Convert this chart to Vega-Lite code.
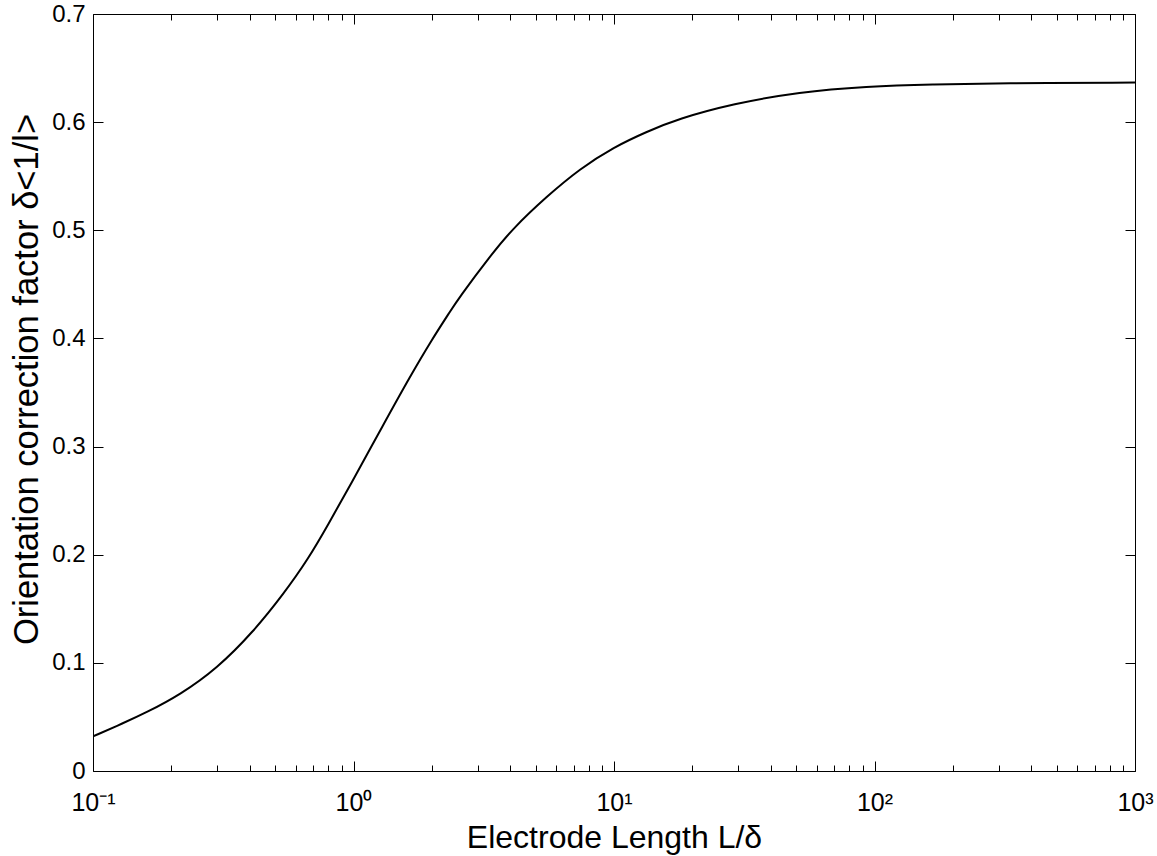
{
  "$schema": "https://vega.github.io/schema/vega-lite/v6.json",
  "width": 1042,
  "height": 757,
  "autosize": {"type": "none"},
  "padding": {"left": 93, "top": 14, "right": 22, "bottom": 85},
  "background": "white",
  "data": {
    "values": [
      {"L": 0.1, "f": 0.032},
      {"L": 0.13, "f": 0.044},
      {"L": 0.16, "f": 0.054},
      {"L": 0.216, "f": 0.0705},
      {"L": 0.3, "f": 0.095},
      {"L": 0.41, "f": 0.128},
      {"L": 0.54, "f": 0.164},
      {"L": 0.67, "f": 0.196},
      {"L": 0.8, "f": 0.228},
      {"L": 0.97, "f": 0.264},
      {"L": 1.3, "f": 0.320},
      {"L": 1.65, "f": 0.365},
      {"L": 2.0, "f": 0.399},
      {"L": 2.35, "f": 0.425},
      {"L": 2.53, "f": 0.437},
      {"L": 3.34, "f": 0.476},
      {"L": 4.1, "f": 0.502},
      {"L": 5.5, "f": 0.531},
      {"L": 7.4, "f": 0.557},
      {"L": 10, "f": 0.577},
      {"L": 13.3, "f": 0.591},
      {"L": 17.6, "f": 0.603},
      {"L": 28.6, "f": 0.617},
      {"L": 51.5, "f": 0.628},
      {"L": 93, "f": 0.633},
      {"L": 168, "f": 0.635},
      {"L": 300, "f": 0.636},
      {"L": 1000, "f": 0.6366}
    ]
  },
  "config": {
    "font": "Liberation Sans",
    "view": {"stroke": "#000", "strokeWidth": 1},
    "axis": {
      "domain": false,
      "grid": false,
      "tickColor": "#000",
      "tickWidth": 1,
      "labelColor": "#000",
      "titleColor": "#000",
      "labelFont": "Liberation Sans",
      "titleFont": "Liberation Sans",
      "labelFontSize": 24,
      "titleFontSize": 32,
      "titleFontWeight": "normal",
      "labelFlush": false,
      "labelOverlap": false
    }
  },
  "layer": [
    {
      "mark": {"type": "line", "color": "#000", "strokeWidth": 2, "interpolate": "basis", "clip": true},
      "encoding": {
        "x": {
          "field": "L", "type": "quantitative",
          "scale": {"type": "log", "domain": [0.1, 1000], "nice": false},
          "axis": {
            "orient": "bottom",
            "values": [0.1, 1, 10, 100, 1000],
            "tickSize": -10,
            "labelPadding": 29,
            "labelFontSize": 25,
            "labelExpr": "datum.value < 0.5 ? '10⁻¹' : datum.value < 5 ? '10⁰' : datum.value < 50 ? '10¹' : datum.value < 500 ? '10²' : '10³'",
            "title": "Electrode Length L/δ",
            "titleY": 76,
            "titleBaseline": "alphabetic"
          }
        },
        "y": {
          "field": "f", "type": "quantitative",
          "scale": {"domain": [0, 0.7], "nice": false, "zero": false},
          "axis": {
            "orient": "left",
            "values": [0, 0.1, 0.2, 0.3, 0.4, 0.5, 0.6, 0.7],
            "format": ".1~f",
            "tickSize": -10,
            "labelPadding": 18,
            "title": "Orientation correction factor δ<1/l>",
            "titleFontSize": 34.5,
            "titleX": -56,
            "titleY": 365,
            "titleAngle": -90,
            "titleAlign": "center",
            "titleBaseline": "alphabetic"
          }
        }
      }
    },
    {
      "mark": {"type": "line", "strokeOpacity": 0},
      "encoding": {
        "x": {
          "field": "L", "type": "quantitative",
          "scale": {"type": "log", "domain": [0.1, 1000], "nice": false},
          "axis": {
            "orient": "bottom",
            "values": [0.2, 0.3, 0.4, 0.5, 0.6, 0.7, 0.8, 0.9, 2, 3, 4, 5, 6, 7, 8, 9, 20, 30, 40, 50, 60, 70, 80, 90, 200, 300, 400, 500, 600, 700, 800, 900],
            "tickSize": -6,
            "labels": false,
            "title": null
          }
        },
        "y": {
          "field": "f", "type": "quantitative",
          "scale": {"domain": [0, 0.7], "nice": false, "zero": false},
          "axis": {
            "orient": "right",
            "values": [0, 0.1, 0.2, 0.3, 0.4, 0.5, 0.6, 0.7],
            "tickSize": -10,
            "labels": false,
            "title": null
          }
        }
      }
    },
    {
      "mark": {"type": "line", "strokeOpacity": 0},
      "encoding": {
        "x": {
          "field": "L", "type": "quantitative",
          "scale": {"type": "log", "domain": [0.1, 1000], "nice": false},
          "axis": {
            "orient": "top",
            "values": [0.1, 1, 10, 100, 1000],
            "tickSize": -10,
            "labels": false,
            "title": null
          }
        },
        "y": {
          "field": "f", "type": "quantitative",
          "scale": {"domain": [0, 0.7], "nice": false, "zero": false},
          "axis": null
        }
      }
    },
    {
      "mark": {"type": "line", "strokeOpacity": 0},
      "encoding": {
        "x": {
          "field": "L", "type": "quantitative",
          "scale": {"type": "log", "domain": [0.1, 1000], "nice": false},
          "axis": {
            "orient": "top",
            "values": [0.2, 0.3, 0.4, 0.5, 0.6, 0.7, 0.8, 0.9, 2, 3, 4, 5, 6, 7, 8, 9, 20, 30, 40, 50, 60, 70, 80, 90, 200, 300, 400, 500, 600, 700, 800, 900],
            "tickSize": -6,
            "labels": false,
            "title": null
          }
        },
        "y": {
          "field": "f", "type": "quantitative",
          "scale": {"domain": [0, 0.7], "nice": false, "zero": false},
          "axis": null
        }
      }
    }
  ],
  "resolve": {"axis": {"x": "independent", "y": "independent"}}
}
